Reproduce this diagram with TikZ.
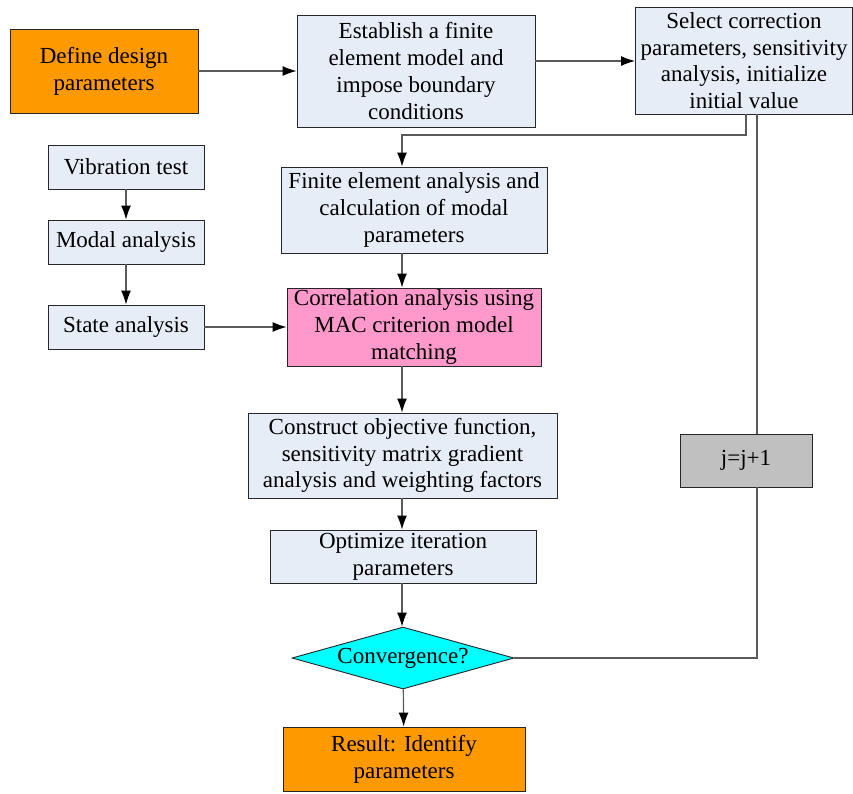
\documentclass[tikz,border=0pt]{standalone}
\usepackage{fontspec}
\setmainfont{Liberation Serif}
\usetikzlibrary{shapes.geometric,arrows.meta}
\definecolor{boxblue}{HTML}{E7EDF7}
\definecolor{boxorange}{HTML}{FF9900}
\definecolor{boxpink}{HTML}{FF99CC}
\definecolor{boxcyan}{HTML}{00FFFF}
\definecolor{boxgray}{HTML}{C0C0C0}
\tikzset{
  block/.style={draw=black!85, line width=0.9pt, fill=boxblue, align=center, inner sep=0pt,
    font=\fontsize{23}{26.7}\selectfont},
  startend/.style={block, fill=boxorange},
  decide/.style={block, diamond, fill=boxcyan, aspect=3.58},
  arr/.style={draw=black!65, line width=1.2pt, -{Latex[length=14pt,width=10pt,color=black]}},
  link/.style={draw=black!65, line width=1.2pt}
}
\begin{document}
\begin{tikzpicture}[x=1pt,y=-1pt]
  \useasboundingbox (0,0) rectangle (853,793);
  % top row
  \node[startend, minimum width=188pt, minimum height=84pt] (define) at (104,71) {Define design\\parameters};
  \node[block, minimum width=238pt, minimum height=112pt] (femodel) at (416,71) {Establish a finite\\element model and\\impose boundary\\conditions};
  \node[block, minimum width=217pt, minimum height=107pt] (select) at (744,60.5) {Select correction\\parameters, sensitivity\\analysis, initialize\\initial value};
  % test branch
  \node[block, minimum width=156pt, minimum height=44pt] (vibtest) at (126,167) {Vibration test};
  \node[block, minimum width=156pt, minimum height=44pt] (modal) at (126,242) {Modal analysis};
  \node[block, minimum width=156pt, minimum height=44pt] (state) at (126,327) {State analysis};
  % main column
  \node[block, minimum width=266pt, minimum height=86pt] (fea) at (414,210) {Finite element analysis and\\calculation of modal\\parameters};
  \node[block, fill=boxpink, minimum width=254pt, minimum height=78pt] (mac) at (414,327) {Correlation analysis using\\MAC criterion model\\matching};
  \node[block, minimum width=309pt, minimum height=85pt] (objfun) at (402.5,455.5) {Construct objective function,\\sensitivity matrix gradient\\analysis and weighting factors};
  \node[block, minimum width=266pt, minimum height=53pt] (optim) at (403,556.5) {Optimize iteration\\parameters};
  \node[decide, minimum width=222pt, minimum height=62pt] (conv) at (403,658) {Convergence?};
  \node[startend, minimum width=242pt, minimum height=64pt] (result) at (404,759) {Result: Identify\\parameters};
  \node[block, fill=boxgray, minimum width=132pt, minimum height=53pt] (jinc) at (746,460.5) {j=j+1};
  \coordinate (bend) at (402,135);
  \coordinate (loopx) at (757,0);
  % connectors
  \draw[arr] (define) -- (femodel.west |- define);
  \draw[arr] (femodel.east |- 0,61) -- (select.west |- 0,61);
  \draw[arr] ([xshift=2pt]select.south) |- (bend) -- (bend |- fea.north);
  \draw[arr] (vibtest) -- (modal);
  \draw[arr] (modal) -- (state);
  \draw[arr] (state) -- (mac.west |- state);
  \draw[arr] (bend |- fea.south) -- (bend |- mac.north);
  \draw[arr] (bend |- mac.south) -- (bend |- objfun.north);
  \draw[arr] (bend |- objfun.south) -- (bend |- optim.north);
  \draw[arr] (bend |- optim.south) -- (bend |- conv.north);
  \draw[arr] (conv) -- (result);
  \draw[link] (conv.east) -| (loopx |- jinc.south);
  \draw[link] (loopx |- jinc.north) -- (loopx |- select.south);
\end{tikzpicture}
\end{document}
